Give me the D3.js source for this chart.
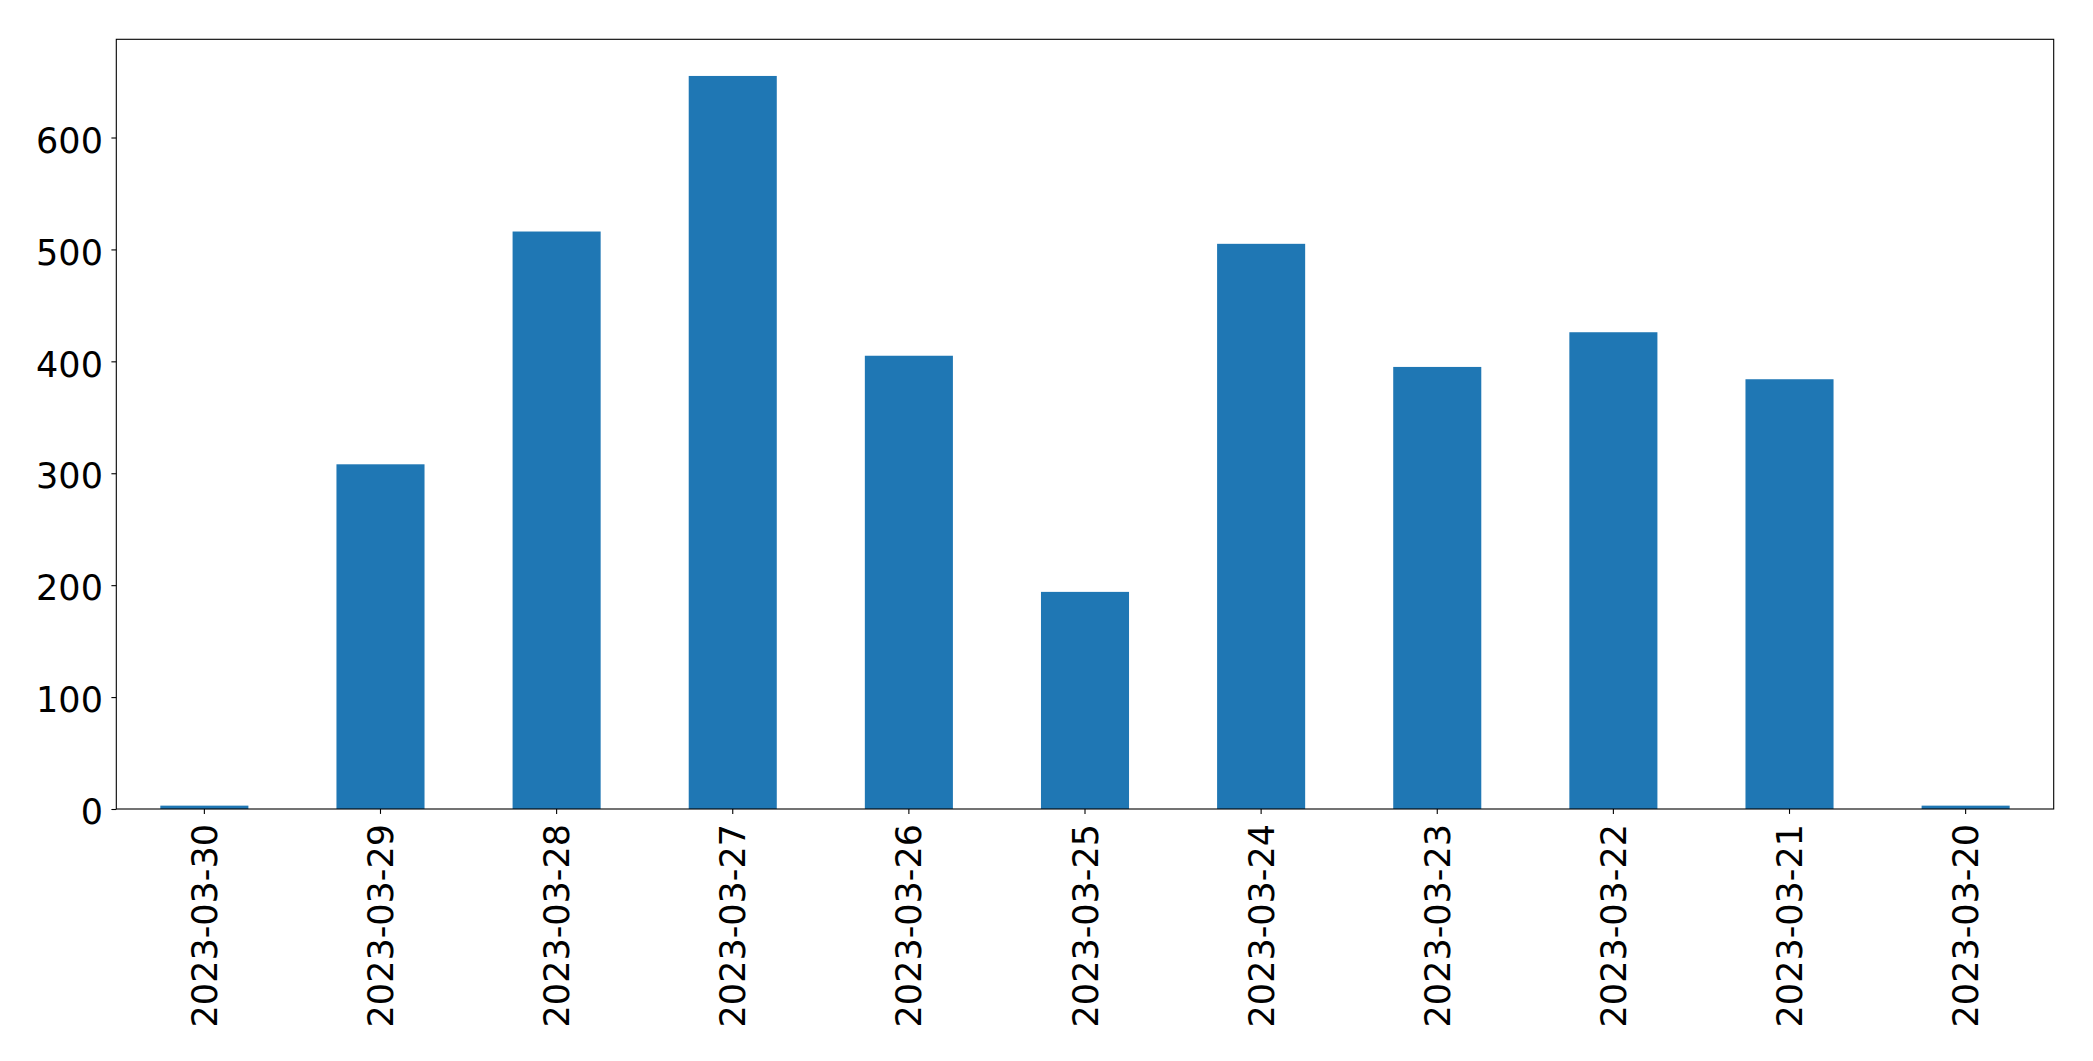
<!DOCTYPE html>
<html>
<head>
<meta charset="utf-8">
<script src="https://cdn.jsdelivr.net/npm/d3@7"></script>
<style>
  html, body { margin: 0; padding: 0; background: #fff; }
  svg { display: block; }
  text { font-family: "DejaVu Sans", sans-serif; fill: #000; }
</style>
</head>
<body>
<script>
const categories = ["2023-03-30","2023-03-29","2023-03-28","2023-03-27","2023-03-26","2023-03-25","2023-03-24","2023-03-23","2023-03-22","2023-03-21","2023-03-20"];
const values = [3, 308, 516, 655, 405, 194, 505, 395, 426, 384, 3];
const yTicks = [0, 100, 200, 300, 400, 500, 600];

(function () {
const W = 2093, H = 1061;
const mLeft = 116.3, mRight = 2053.7, mTop = 39.3, mBottom = 809;
const fontPx = 35;

const svg = d3.select("body").append("svg").attr("width", W).attr("height", H);

const x = d3.scaleBand().domain(categories).range([mLeft, mRight]).paddingInner(0.5).paddingOuter(0.25);
const y = d3.scaleLinear().domain([0, d3.max(values) * 1.05]).range([mBottom, mTop]);

svg.append("g").selectAll("rect").data(values).join("rect")
  .attr("x", (d, i) => x(categories[i]))
  .attr("width", x.bandwidth())
  .attr("y", d => y(d))
  .attr("height", d => mBottom - y(d))
  .attr("fill", "#1f77b4");

const yAxis = svg.append("g").attr("transform", `translate(${mLeft},0)`)
  .call(d3.axisLeft(y).tickValues(yTicks).tickSize(4.9).tickPadding(8.5).tickFormat(d3.format("d")));
yAxis.select(".domain").remove();
yAxis.selectAll("line").attr("stroke", "#000").attr("stroke-width", 1.1);
yAxis.selectAll("text").attr("font-size", fontPx).attr("font-family", "DejaVu Sans").attr("fill", "#000")
  .attr("dy", "0.42em");

const xAxis = svg.append("g").attr("transform", `translate(0,${mBottom})`)
  .call(d3.axisBottom(x).tickSize(4.9).tickPadding(8));
xAxis.select(".domain").remove();
xAxis.selectAll("line").attr("stroke", "#000").attr("stroke-width", 1.1);
xAxis.selectAll("text")
  .attr("font-size", fontPx).attr("font-family", "DejaVu Sans").attr("fill", "#000")
  .attr("transform", "rotate(-90)")
  .attr("text-anchor", "end")
  .attr("x", -15)
  .attr("y", 0)
  .attr("dy", "0.36em");

svg.append("rect")
  .attr("x", mLeft).attr("y", mTop)
  .attr("width", mRight - mLeft).attr("height", mBottom - mTop)
  .attr("fill", "none").attr("stroke", "#000").attr("stroke-width", 1.1);
})();
</script>
</body>
</html>
